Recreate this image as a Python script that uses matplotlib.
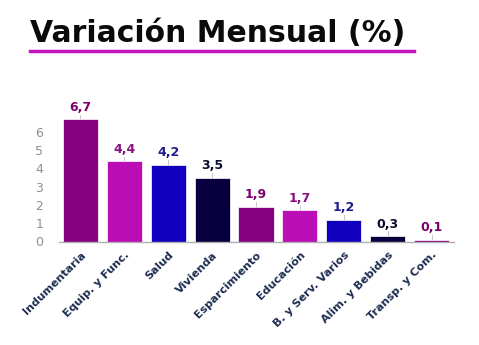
import matplotlib
matplotlib.use("Agg")
import matplotlib.pyplot as plt

categories = ["Indumentaria", "Equip. y Func.", "Salud", "Vivienda", "Esparcimiento",
              "Educación", "B. y Serv. Varios", "Alim. y Bebidas", "Transp. y Com."]
values = [6.7, 4.4, 4.2, 3.5, 1.9, 1.7, 1.2, 0.3, 0.1]
yticks = [0, 1, 2, 3, 4, 5, 6]

bar_colors = ["#870080", "#BB0DB5", "#1000BE", "#08003E",
              "#870080", "#BB0DB5", "#1000BE", "#08003E", "#870080"]
label_colors = ["#7A006F", "#8A1183", "#1C1C8C", "#0A0A30",
                "#7A006F", "#8A1183", "#1C1C8C", "#0A0A30", "#7A006F"]

plt.rcParams['font.family'] = ['DejaVu Sans']

fig = plt.figure(figsize=(4.79, 3.45), dpi=100)
fig.patch.set_facecolor("white")

# Title with underline
fig.text(30 / 479, 1 - 34 / 345, "Variación Mensual (%)", fontsize=21.5, fontweight="bold",
         color="#0A0A0A", ha="left", va="center")
fig.add_artist(plt.Line2D([30 / 479, 414 / 479], [1 - 51 / 345, 1 - 51 / 345],
                          color="#C415BC", lw=2.5, transform=fig.transFigure))

ax = fig.add_axes([58.5 / 479, 1 - 241.5 / 345, 395 / 479, 137 / 345])
x = list(range(len(categories)))
ax.bar(x, values, width=0.8, color=bar_colors, edgecolor="white", linewidth=0.5, zorder=2)
ax.set_xlim(-0.5, len(categories) - 0.5)
ax.set_ylim(0, 7.5)

for xi, v, c in zip(x, values, label_colors):
    ax.plot([xi, xi], [v, v + 0.25], color="#BBBBBB", lw=0.6, zorder=1)
    ax.text(xi, v + 0.3, f"{v:.1f}".replace(".", ","), ha="center", va="bottom",
            fontsize=9, fontweight="bold", color=c)

ax.set_yticks(yticks)
ax.set_yticklabels([str(t) for t in yticks], color="#8A8F98", fontsize=9)
ax.tick_params(axis="y", length=0, pad=11)
ax.set_xticks(x)
ax.set_xticklabels(categories, rotation=45, ha="right", rotation_mode="anchor",
                   fontsize=8, fontweight="bold", color="#1C2B4F")
ax.tick_params(axis="x", length=0, pad=6)

for s in ["top", "right", "left"]:
    ax.spines[s].set_visible(False)
ax.spines["bottom"].set_color("#B0B0B0")
ax.spines["bottom"].set_linewidth(1)

fig.savefig("out.png", dpi=100, facecolor="white")
